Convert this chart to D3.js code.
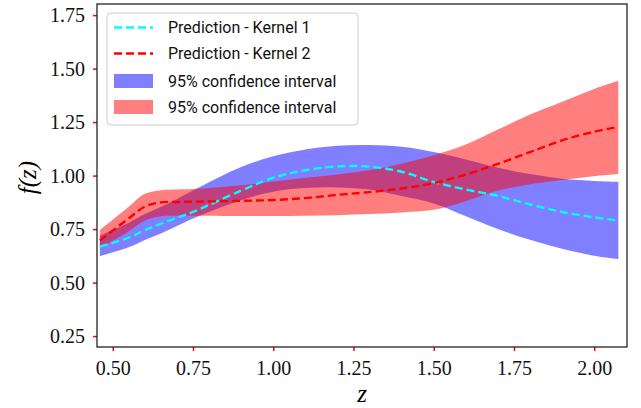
<!DOCTYPE html>
<html>
<head>
<meta charset="utf-8">
<script src="https://cdn.jsdelivr.net/npm/d3@7.9.0/dist/d3.min.js"></script>
</head>
<body style="margin:0">
<svg id="chart" width="641" height="408" font-family="Liberation Serif, serif"></svg>
<script>
// z grid shared by every series
const zs = [0.46, 0.55, 0.60, 0.65, 0.70, 0.75, 0.90, 1.00, 1.10, 1.20, 1.30, 1.40, 1.50, 1.60, 1.70, 1.80, 1.90, 2.00, 2.075];

// Kernel 1
const mean1  = [0.668, 0.71, 0.745, 0.775, 0.803, 0.83, 0.93, 0.99, 1.025, 1.043, 1.042, 1.018, 0.97, 0.935, 0.905, 0.865, 0.83, 0.805, 0.79];
const upper1 = [0.72, 0.78, 0.82, 0.855, 0.89, 0.93, 1.04, 1.09, 1.122, 1.14, 1.143, 1.135, 1.11, 1.075, 1.037, 1.007, 0.985, 0.975, 0.971];
const lower1 = [0.624, 0.665, 0.699, 0.73, 0.765, 0.80, 0.885, 0.925, 0.942, 0.945, 0.935, 0.905, 0.87, 0.81, 0.75, 0.70, 0.658, 0.625, 0.609];

// Kernel 2
const mean2  = [0.697, 0.80, 0.855, 0.875, 0.877, 0.878, 0.882, 0.886, 0.895, 0.91, 0.923, 0.94, 0.965, 1.005, 1.055, 1.11, 1.165, 1.205, 1.228];
const upper2 = [0.746, 0.855, 0.915, 0.932, 0.935, 0.937, 0.955, 0.972, 0.99, 1.005, 1.025, 1.055, 1.095, 1.145, 1.215, 1.285, 1.345, 1.405, 1.443];
const lower2 = [0.662, 0.74, 0.79, 0.81, 0.812, 0.812, 0.811, 0.811, 0.812, 0.815, 0.82, 0.828, 0.84, 0.88, 0.93, 0.96, 0.98, 0.997, 1.007];

const xTicks = [0.50, 0.75, 1.00, 1.25, 1.50, 1.75, 2.00];
const yTicks = [0.25, 0.50, 0.75, 1.00, 1.25, 1.50, 1.75];

const legendLabels = ['Prediction - Kernel 1', 'Prediction - Kernel 2', '95% confidence interval', '95% confidence interval'];

const SERIF = 'Liberation Serif, serif';

const margin = {left: 97, top: 4, right: 14, bottom: 61};
const W = 641, H = 408;
const w = W - margin.left - margin.right;
const h = H - margin.top - margin.bottom;

const svg = d3.select('#chart');
const g = svg.append('g').attr('transform', `translate(${margin.left},${margin.top})`);

const x = d3.scaleLinear().domain([0.451, 2.102]).range([0, w]);
const y = d3.scaleLinear().domain([0.199, 1.802]).range([h, 0]);

const curve = d3.curveCatmullRom.alpha(0.5);

const band = (lo, hi) => d3.area()
  .x((d, i) => x(zs[i]))
  .y0((d, i) => y(lo[i]))
  .y1((d, i) => y(hi[i]))
  .curve(curve)(zs);

const line = (vals) => d3.line()
  .x((d, i) => x(zs[i]))
  .y((d, i) => y(vals[i]))
  .curve(curve)(zs);

g.append('path').attr('d', band(lower1, upper1)).attr('fill', 'blue').attr('fill-opacity', 0.5);
g.append('path').attr('d', band(lower2, upper2)).attr('fill', 'red').attr('fill-opacity', 0.5);

g.append('path').attr('d', line(mean1)).attr('fill', 'none')
  .attr('stroke', 'cyan').attr('stroke-width', 2.4).attr('stroke-dasharray', '8,4');
g.append('path').attr('d', line(mean2)).attr('fill', 'none')
  .attr('stroke', 'red').attr('stroke-width', 2.4).attr('stroke-dasharray', '8,4');

// axes
const xAxis = d3.axisBottom(x).tickValues(xTicks).tickFormat(d3.format('.2f')).tickSizeInner(4).tickSizeOuter(0).tickPadding(10);
const yAxis = d3.axisLeft(y).tickValues(yTicks).tickFormat(d3.format('.2f')).tickSizeInner(4).tickSizeOuter(0).tickPadding(8);

const gy = g.append('g').call(yAxis);
const gx = g.append('g').attr('transform', `translate(0,${h})`).call(xAxis);
[gx, gy].forEach(a => {
  a.attr('font-family', SERIF).attr('font-size', 20);
  a.select('.domain').remove();
  a.selectAll('.tick line').attr('stroke', 'red').attr('stroke-width', 1.5);
  a.selectAll('.tick text').attr('fill', '#111').attr('font-family', SERIF).attr('font-size', 20);
});

g.append('rect').attr('width', w).attr('height', h)
  .attr('fill', 'none').attr('stroke', '#222').attr('stroke-width', 1.3);

// axis labels
svg.append('text')
  .attr('x', margin.left + w / 2).attr('y', 402)
  .attr('text-anchor', 'middle')
  .attr('font-family', SERIF).attr('font-size', 25).attr('font-style', 'italic')
  .text('z');

svg.append('text')
  .attr('transform', `translate(36,${margin.top + y(1.0) + 2}) rotate(-90)`)
  .attr('text-anchor', 'middle')
  .attr('font-family', SERIF).attr('font-size', 25).attr('font-style', 'italic')
  .text('f(z)');

// legend
const lg = svg.append('g').attr('transform', 'translate(107,13)');
lg.append('rect').attr('width', 251).attr('height', 112).attr('rx', 4)
  .attr('fill', 'white').attr('fill-opacity', 0.8).attr('stroke', '#ccc').attr('stroke-width', 1);

const rowY = [14.5, 40.5, 68, 94];
const handles = [
  {type: 'line', color: 'cyan'},
  {type: 'line', color: 'red'},
  {type: 'patch', color: 'blue'},
  {type: 'patch', color: 'red'}
];
handles.forEach((hd, i) => {
  if (hd.type === 'line') {
    lg.append('line').attr('x1', 7).attr('x2', 46).attr('y1', rowY[i]).attr('y2', rowY[i])
      .attr('stroke', hd.color).attr('stroke-width', 2.4).attr('stroke-dasharray', '8,4');
  } else {
    lg.append('rect').attr('x', 7).attr('y', rowY[i] - 7).attr('width', 39).attr('height', 14)
      .attr('fill', hd.color).attr('fill-opacity', 0.5);
  }
  lg.append('text').attr('x', 61).attr('y', rowY[i]).attr('dy', '0.35em')
    .attr('font-family', 'Roboto').attr('font-size', 16).attr('fill', '#111')
    .text(legendLabels[i]);
});
</script>
</body>
</html>
